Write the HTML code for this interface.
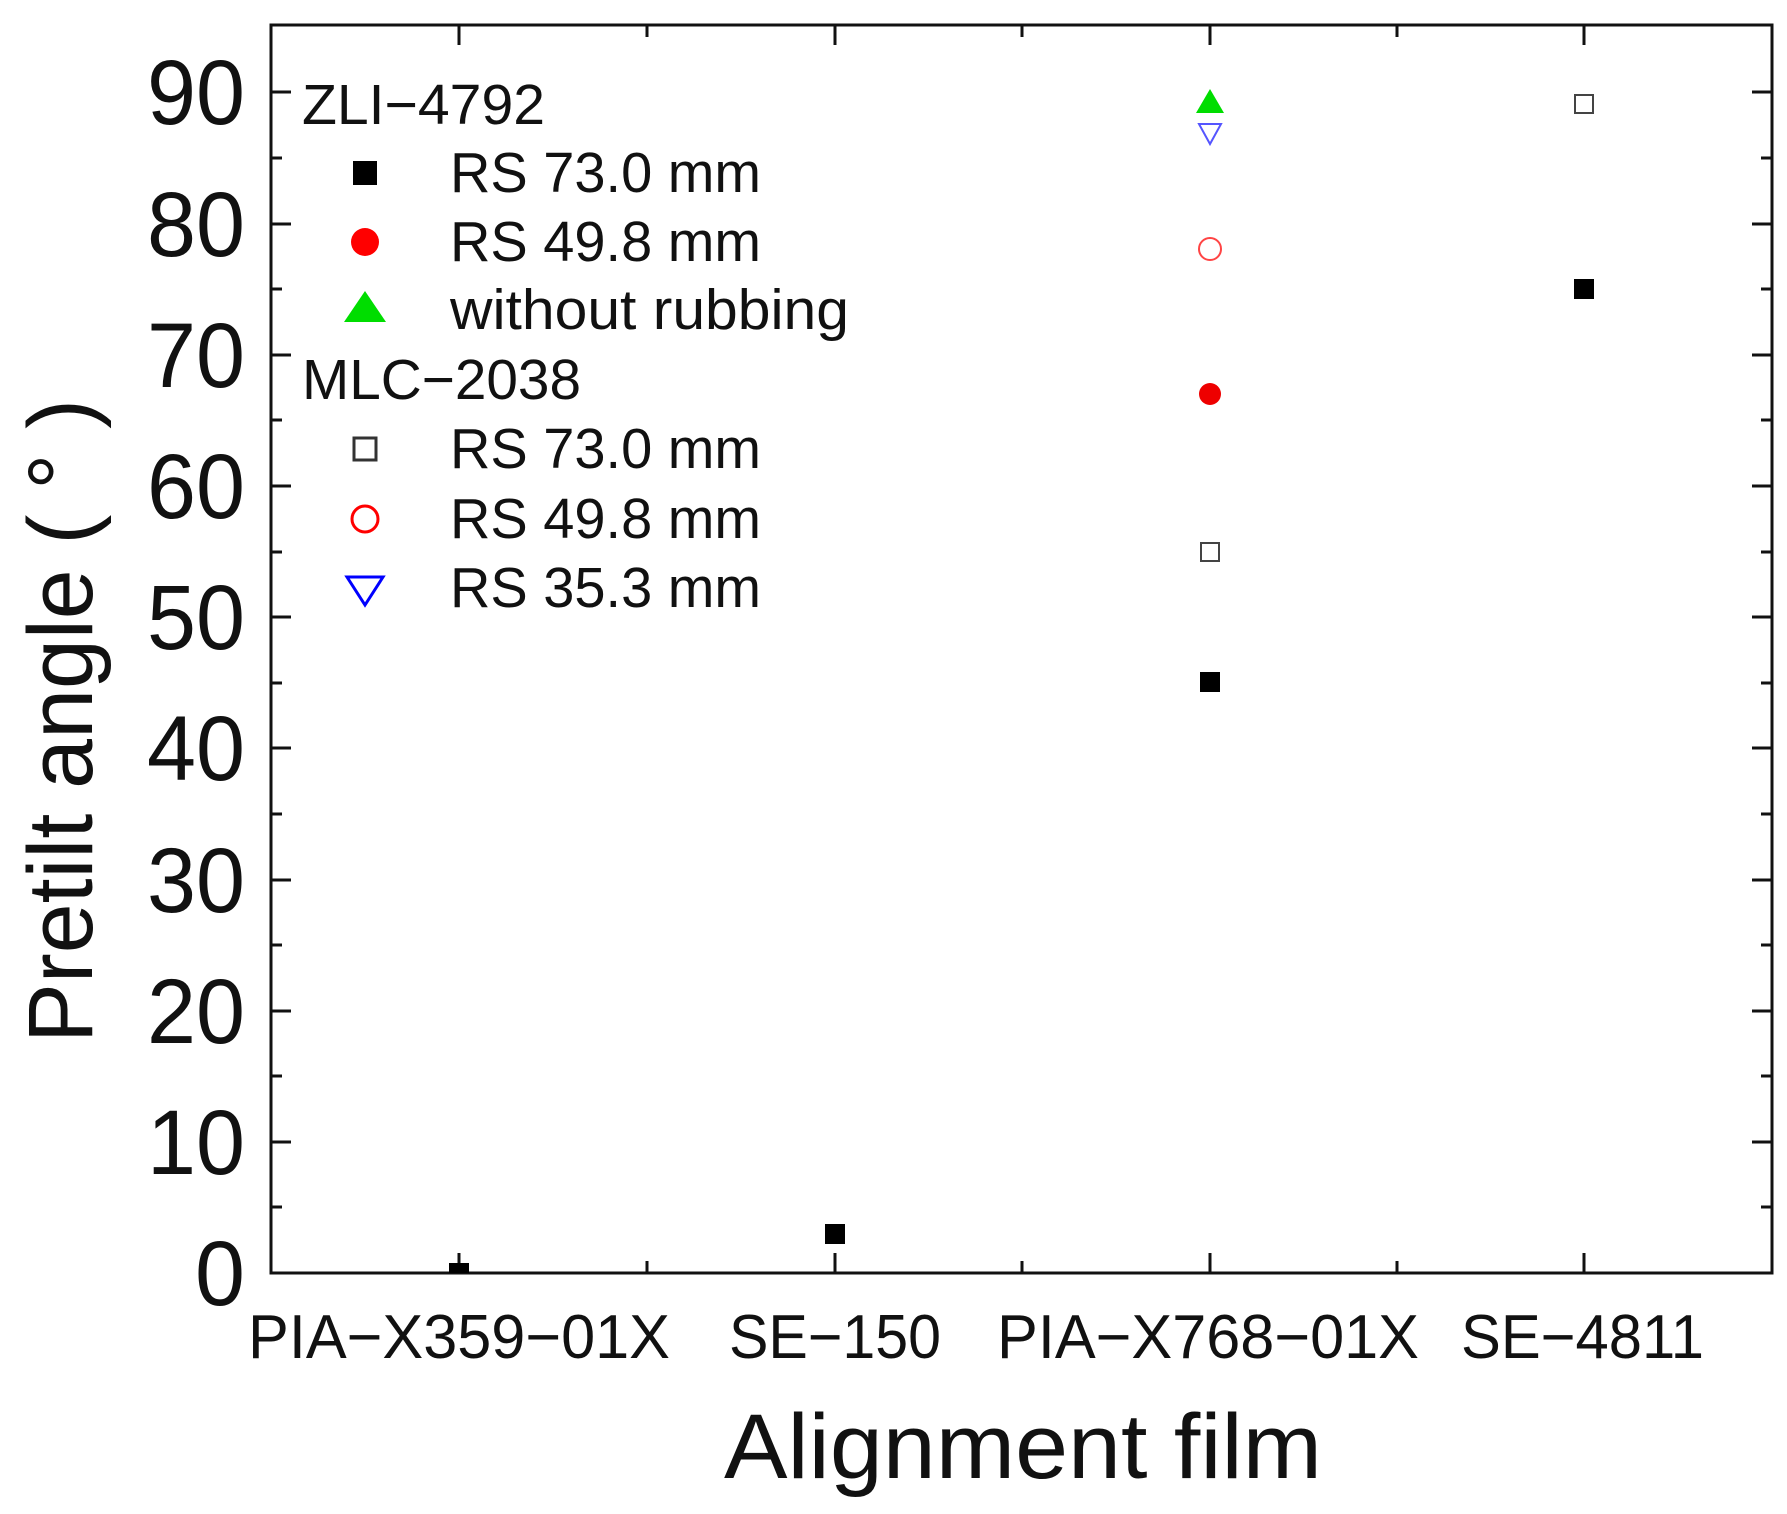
<!DOCTYPE html>
<html><head><style>body{margin:0;background:#fff}svg{display:block}text{font-family:"Liberation Sans",sans-serif;fill:#111}</style></head>
<body>
<svg width="1787" height="1514" viewBox="0 0 1787 1514" xmlns="http://www.w3.org/2000/svg">
<rect x="271" y="25" width="1501" height="1248" fill="none" stroke="#111" stroke-width="3"/>
<g stroke="#111" stroke-width="3">
<path d="M271 1273h20M271 1142h20M271 1011h20M271 880h20M271 748h20M271 617h20M271 486h20M271 355h20M271 224h20M271 92h20"/>
<path d="M1772 1142h-20M1772 1011h-20M1772 880h-20M1772 748h-20M1772 617h-20M1772 486h-20M1772 355h-20M1772 224h-20M1772 92h-20"/>
<path d="M271 1207h11M271 1076h11M271 945h11M271 814h11M271 683h11M271 552h11M271 420h11M271 289h11M271 158h11"/>
<path d="M1772 1207h-11M1772 1076h-11M1772 945h-11M1772 814h-11M1772 683h-11M1772 552h-11M1772 420h-11M1772 289h-11M1772 158h-11"/>
<path d="M459 1273v-20M835 1273v-20M1210 1273v-20M1584 1273v-20M647 1273v-12M1022 1273v-12M1397 1273v-12"/>
<path d="M459 25v20M835 25v20M1210 25v20M1584 25v20M647 25v12M1022 25v12M1397 25v12"/>
</g>
<g font-size="92" text-anchor="end" lengthAdjust="spacingAndGlyphs">
<text x="245" y="1305" textLength="50" lengthAdjust="spacingAndGlyphs">0</text>
<text x="245" y="1174" textLength="98" lengthAdjust="spacingAndGlyphs">10</text>
<text x="245" y="1043" textLength="98" lengthAdjust="spacingAndGlyphs">20</text>
<text x="245" y="912" textLength="98" lengthAdjust="spacingAndGlyphs">30</text>
<text x="245" y="780" textLength="98" lengthAdjust="spacingAndGlyphs">40</text>
<text x="245" y="649" textLength="98" lengthAdjust="spacingAndGlyphs">50</text>
<text x="245" y="518" textLength="98" lengthAdjust="spacingAndGlyphs">60</text>
<text x="245" y="387" textLength="98" lengthAdjust="spacingAndGlyphs">70</text>
<text x="245" y="256" textLength="98" lengthAdjust="spacingAndGlyphs">80</text>
<text x="245" y="124" textLength="98" lengthAdjust="spacingAndGlyphs">90</text>
</g>
<g font-size="62">
<text x="248" y="1358" textLength="422" lengthAdjust="spacingAndGlyphs">PIA−X359−01X</text>
<text x="729" y="1358" textLength="212" lengthAdjust="spacingAndGlyphs">SE−150</text>
<text x="997" y="1358" textLength="422" lengthAdjust="spacingAndGlyphs">PIA−X768−01X</text>
<text x="1461" y="1358" textLength="243" lengthAdjust="spacingAndGlyphs">SE−4811</text>
</g>
<text x="724" y="1478" font-size="92" textLength="598" lengthAdjust="spacingAndGlyphs">Alignment film</text>
<text transform="translate(92,1043) rotate(-90)" font-size="92" textLength="644" lengthAdjust="spacingAndGlyphs">Pretilt angle ( ° )</text>
<g font-size="57">
<text x="302" y="124" textLength="243" lengthAdjust="spacingAndGlyphs">ZLI−4792</text>
<text x="450" y="192" textLength="311" lengthAdjust="spacingAndGlyphs">RS 73.0 mm</text>
<text x="450" y="261" textLength="311" lengthAdjust="spacingAndGlyphs">RS 49.8 mm</text>
<text x="450" y="329" textLength="399" lengthAdjust="spacingAndGlyphs">without rubbing</text>
<text x="302" y="399" textLength="279" lengthAdjust="spacingAndGlyphs">MLC−2038</text>
<text x="450" y="468" textLength="311" lengthAdjust="spacingAndGlyphs">RS 73.0 mm</text>
<text x="450" y="538" textLength="311" lengthAdjust="spacingAndGlyphs">RS 49.8 mm</text>
<text x="450" y="607" textLength="311" lengthAdjust="spacingAndGlyphs">RS 35.3 mm</text>
</g>
<rect x="353" y="161" width="24" height="24" fill="#000"/>
<circle cx="365" cy="242" r="14" fill="#f00"/>
<polygon points="365,291 386,322 344,322" fill="#0d0"/>
<rect x="354" y="438" width="22" height="22" fill="none" stroke="#333" stroke-width="3"/>
<circle cx="365" cy="519" r="13" fill="none" stroke="#f00" stroke-width="3"/>
<polygon points="347,577 383,577 365,605" fill="none" stroke="#00f" stroke-width="3"/>
<rect x="449" y="1263" width="20" height="10" fill="#000"/>
<rect x="825" y="1224" width="20" height="20" fill="#000"/>
<polygon points="1210,89 1224,113 1196,113" fill="#0d0"/>
<polygon points="1199,124 1221,124 1210,144" fill="none" stroke="#55f" stroke-width="2"/>
<circle cx="1210" cy="249" r="11" fill="none" stroke="#f44" stroke-width="2"/>
<circle cx="1210" cy="394" r="11" fill="#e00"/>
<rect x="1201" y="543" width="18" height="18" fill="none" stroke="#444" stroke-width="2"/>
<rect x="1200" y="672" width="20" height="20" fill="#000"/>
<rect x="1575" y="95" width="18" height="18" fill="none" stroke="#444" stroke-width="2"/>
<rect x="1574" y="279" width="20" height="20" fill="#000"/>
</svg>
</body></html>
